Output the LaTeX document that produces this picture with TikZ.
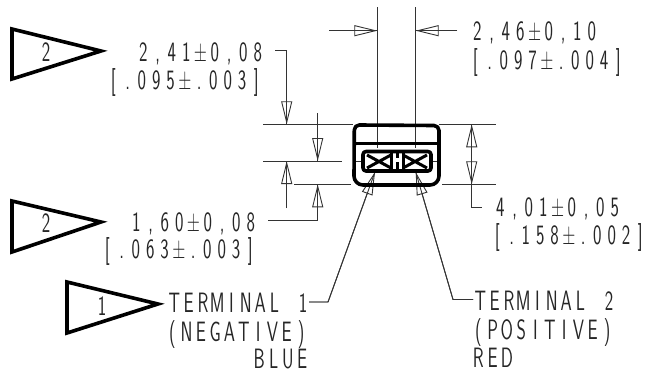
\documentclass[tikz,border=0pt]{standalone}
\usepackage{fontspec}
\usetikzlibrary{arrows.meta}
\newfontfamily\cadfont[FakeStretch=0.64]{Latin Modern Sans}
\def\lw{0.9pt}
\makeatletter
\newcommand{\cad}[1]{\@tfor\cadchar:=#1\do{\makebox[14.3pt]{\cadchar}}}
\makeatother
\tikzset{
  thin line/.style={line width=\lw, black!80},
  thick line/.style={line width=3.6pt, line join=round},
  dimarrow/.style={thin line, -{Triangle[open,fill=none,length=23pt,width=11pt,line width=\lw]}, postaction={draw,-}},
  label/.style={font=\cadfont\fontsize{28}{28}\selectfont, anchor=west, inner sep=0pt, text height=19.4pt, text depth=0pt, black!85},
  flag/.style={thick line, line join=miter},
}
\begin{document}
\begin{tikzpicture}[x=1pt, y=-1pt]
      \useasboundingbox (0,0) rectangle (647,372);
      % flags
      \draw[flag] (12,29) -- (101,51) -- (12,79) -- cycle;
      \draw[flag] (12,201) -- (101,222) -- (12,252) -- cycle;
      \draw[flag] (67,282) -- (158,304) -- (67,333) -- cycle;
      \node[label, anchor=center] (flagone) at (46,52) {2};
      \node[label, anchor=center] (flagtwo) at (46,223) {2};
      \node[label, anchor=center] (flagthree) at (102,306) {1};
      % texts
      \node[label] (topval) at (136,52) {\cad{2,41±0,08}};
      \node[label] (topinch) at (106,80) {\cad{[.095±.003]}};
      \node[label] (lowval) at (129,222) {\cad{1,60±0,08}};
      \node[label] (lowinch) at (100,249) {\cad{[.063±.003]}};
      \node[label] (gapval) at (470,31) {\cad{2,46±0,10}};
      \node[label] (gapinch) at (468,60) {\cad{[.097±.004]}};
      \node[label] (widthval) at (493,207) {\cad{4,01±0,05}};
      \node[label] (widthinch) at (490,235) {\cad{[.158±.002]}};
      \node[label] (termone) at (167,303) {\cad{TERMINAL~1}};
      \node[label] (negtext) at (165,332) {\cad{(NEGATIVE)}};
      \node[label] (bluetext) at (252,358.5) {\cad{BLUE}};
      \node[label] (termtwo) at (473,301) {\cad{TERMINAL~2}};
      \node[label] (postext) at (471,330) {\cad{(POSITIVE)}};
      \node[label] (redtext) at (471,358) {\cad{RED}};
      % extension lines
      \draw[thin line] (377.3,7) -- (377.3,148);
      \draw[thin line] (415.7,7) -- (415.7,148);
      \draw[thin line] (263,124.3) -- (353,124.3);
      \draw[thin line] (439,124.3) -- (496,124.3);
      \draw[thin line] (263,161) -- (342,161);
      \draw[thin line] (294,184.3) -- (351,184.3);
      \draw[thin line] (442,184.3) -- (496,184.3);
      \draw[thin line] (354,161) -- (363,161);
      \draw[thin line] (431,161) -- (439,161);
      % dimensions
      \draw[dimarrow] (329,30.7) -- (377.3,30.7);
      \draw[dimarrow] (457,30.7) -- (415.7,30.7);
      \draw[dimarrow] (275,50) -- (286.7,50) -- (286.7,124.3);
      \draw[dimarrow] (286.7,208) -- (286.7,161);
      \draw[dimarrow] (317.7,113) -- (317.7,161);
      \draw[dimarrow] (268,220) -- (317.7,220) -- (317.7,184.3);
      \draw[dimarrow] (471.7,155) -- (471.7,124.3);
      \draw[dimarrow] (471.7,155) -- (471.7,184.3);
      \draw[thin line] (471.7,184.3) -- (471.7,207) -- (481.7,207);
      \draw[dimarrow] (309,302) -- (328,302) -- (375,172);
      \draw[dimarrow] (473,299.5) -- (453,299.5) -- (415.7,172);
      % body
      \draw[thick line] (354.3,130) arc (180:270:5) -- (434,125.5) arc (270:360:5) -- (439,176)
        arc (0:90:9) -- (363,185) arc (90:180:9) -- cycle;
      \draw[thick line] (354.3,143.3) -- (439,143.3);
      % terminals
      \draw[thick line, rounded corners=3pt] (363,151.5) rectangle (431,171);
      \draw[line width=3pt] (367,155) -- (391,168) (367,168) -- (391,155);
      \draw[line width=3pt] (403,155) -- (427,168) (403,168) -- (427,155);
      \draw[line width=3pt] (391,152) -- (391,170) (403,152) -- (403,170);
      \draw[line width=3pt] (397,153) -- (397,158) (397,162) -- (397,170);
    \end{tikzpicture}
\end{document}
